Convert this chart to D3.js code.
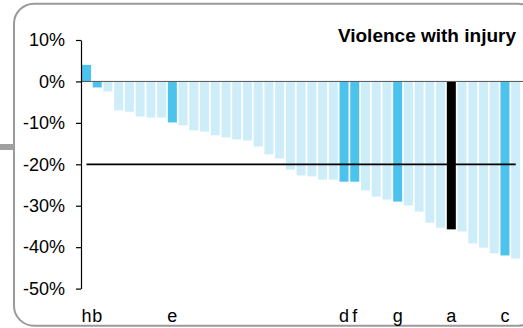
<!DOCTYPE html>
<html>
<head>
<meta charset="utf-8">
<script src="https://cdn.jsdelivr.net/npm/d3@7"></script>
<style>
  html, body { margin: 0; padding: 0; background: #fff; }
  svg { display: block; font-family: "Liberation Sans", Arial, sans-serif; }
</style>
</head>
<body>
<svg id="chart" width="523" height="328"></svg>
<script>
// ---- data ----
const title = "Violence with injury";
const categories = d3.range(41);
const values = [4.0, -1.45, -2.4, -7.0, -7.3, -8.45, -8.7, -8.7, -9.9, -10.6,
  -11.8, -12.1, -13.0, -13.5, -14.0, -14.25, -15.7, -17.6, -18.6, -21.3,
  -22.7, -22.9, -23.7, -23.7, -24.2, -24.2, -26.3, -27.8, -28.5, -29.0,
  -29.95, -31.4, -34.1, -35.3, -35.7, -36.2, -39.1, -40.1, -41.5, -42.0, -42.75];
const labels = ["h","b","","","","","","","e","","","","","","","","","","","","","","","","d","f","","","","g","","","","","a","","","","","c",""];
const groups = ["hi","hi","lo","lo","lo","lo","lo","lo","hi","lo","lo","lo","lo","lo","lo","lo","lo","lo","lo","lo","lo","lo","lo","lo","hi","hi","lo","lo","lo","hi","lo","lo","lo","lo","ref","lo","lo","lo","lo","hi","lo"];
const yTicks = [10, 0, -10, -20, -30, -40, -50];
const refValue = -20;

// ---- drawing ----
const svg = d3.select("#chart");
const color = { lo: "#cdedf9", hi: "#4bc3ec", ref: "#000000" };

// frame
svg.append("rect").attr("x", 14).attr("y", 3.7).attr("width", 524).attr("height", 322)
  .attr("rx", 20).attr("ry", 20).attr("fill", "none").attr("stroke", "#9a9a9a").attr("stroke-width", 2);
svg.append("rect").attr("x", 0).attr("y", 144).attr("width", 14).attr("height", 6).attr("fill", "#a0a0a0");

const x = d3.scaleBand().domain(categories).range([82, 520.2]).paddingInner(0.161).paddingOuter(0);
const y = d3.scaleLinear().domain([-50, 10]).range([288.6, 40]);

// bars
svg.append("g").selectAll("rect").data(categories).join("rect")
  .attr("x", i => x(i))
  .attr("width", x.bandwidth())
  .attr("y", i => y(Math.max(0, values[i])))
  .attr("height", i => Math.abs(y(values[i]) - y(0)))
  .attr("fill", i => color[groups[i]]);

// zero line
svg.append("line").attr("x1", 81).attr("x2", 523).attr("y1", y(0)).attr("y2", y(0))
  .attr("stroke", "#555").attr("stroke-width", 1);

// reference line
svg.append("line")
  .attr("x1", x(categories[0]) + x.bandwidth() / 2)
  .attr("x2", x(categories[categories.length - 1]) + x.bandwidth() / 2)
  .attr("y1", y(refValue)).attr("y2", y(refValue))
  .attr("stroke", "#000").attr("stroke-width", 1.8);

// y axis
const yAxis = svg.append("g").attr("transform", "translate(81,0)")
  .call(d3.axisLeft(y).tickValues(yTicks).tickSize(5).tickSizeOuter(0).tickPadding(11).tickFormat(d => d + "%"));
yAxis.select(".domain").attr("stroke", "#000").attr("stroke-width", 1.2);
yAxis.selectAll(".tick line").attr("stroke", "#000").attr("stroke-width", 1.2);
yAxis.selectAll(".tick text").attr("font-size", 18).attr("fill", "#000")
  .attr("font-family", "'Liberation Sans', Arial, sans-serif");

// x labels
svg.append("g").selectAll("text").data(categories.filter(i => labels[i])).join("text")
  .attr("x", i => x(i) + x.bandwidth() / 2)
  .attr("y", 322)
  .attr("text-anchor", "middle")
  .attr("font-size", 18)
  .attr("fill", "#000")
  .text(i => labels[i]);

// title
svg.append("text").attr("x", 516).attr("y", 42).attr("text-anchor", "end")
  .attr("font-size", 19).attr("font-weight", "bold").attr("fill", "#000").text(title);
</script>
</body>
</html>
